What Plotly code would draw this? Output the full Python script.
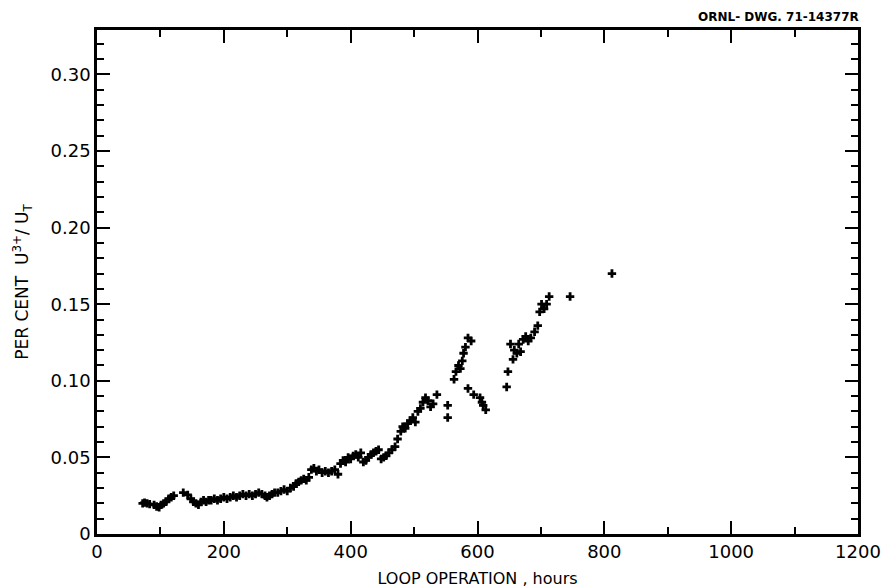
import plotly.graph_objects as go

hours = [72, 75, 79, 83,
         90, 94, 98, 101, 105, 109, 113, 117, 121,
         136,
         143, 148, 152, 156, 160, 164, 168, 172, 176, 180, 185, 190, 195, 200, 205, 210,
         215, 220, 225, 230, 235, 240, 245, 250, 255, 260, 265, 268, 272, 276, 280, 285,
         290, 295, 300, 305, 310, 314, 318, 322, 326, 330, 334, 338, 342, 346, 350, 355,
         360, 365, 370, 375, 380, 384, 388, 392, 396, 400, 404, 408, 412, 416, 420, 424,
         428, 432, 436, 440, 444, 448, 452, 456, 460, 465, 470, 474, 479, 482, 486, 490,
         494, 498, 502, 506, 510, 514, 518, 522, 526, 530, 536, 553, 553,
         563, 566, 570, 573, 576, 578, 581, 585, 590,
         585, 594, 604, 607, 609, 613,
         646, 648, 652, 656, 658, 662, 665, 668, 672, 676, 680, 684, 690, 695,
         698, 701, 705, 709, 713, 746, 812]
percent = [0.020, 0.0205, 0.020, 0.0195,
           0.019, 0.018, 0.0175, 0.019, 0.020, 0.021, 0.023, 0.024, 0.025,
           0.027,
           0.0255, 0.023, 0.021, 0.020, 0.019, 0.021, 0.022, 0.021, 0.022, 0.022, 0.023,
           0.022, 0.023, 0.024, 0.023, 0.024,
           0.025, 0.024, 0.025, 0.026, 0.025, 0.026, 0.025, 0.026, 0.027, 0.026, 0.025,
           0.024, 0.025, 0.026, 0.027, 0.027,
           0.028, 0.029, 0.028, 0.030, 0.031, 0.033, 0.034, 0.035, 0.036, 0.035, 0.037,
           0.042, 0.043, 0.041, 0.042, 0.040,
           0.041, 0.040, 0.041, 0.042, 0.039, 0.046, 0.048, 0.047, 0.050, 0.049, 0.051,
           0.052, 0.050, 0.053, 0.047, 0.048,
           0.050, 0.052, 0.053, 0.054, 0.055, 0.049, 0.050, 0.051, 0.053, 0.055, 0.057,
           0.062, 0.067, 0.070, 0.069, 0.072,
           0.074, 0.076, 0.073, 0.080, 0.082, 0.086, 0.089, 0.087, 0.083, 0.085, 0.091,
           0.084, 0.076,
           0.101, 0.106, 0.110, 0.108, 0.113, 0.118, 0.122, 0.128, 0.126,
           0.095, 0.091, 0.089, 0.086, 0.084, 0.081,
           0.096, 0.106, 0.124, 0.114, 0.120, 0.118, 0.124, 0.119, 0.127, 0.129, 0.126,
           0.128, 0.132, 0.136,
           0.145, 0.150, 0.147, 0.150, 0.155, 0.155, 0.170]

x_ticks = [0, 200, 400, 600, 800, 1000, 1200]
x_labels = ["0", "200", "400", "600", "800", "1000", "1200"]
y_ticks = [0, 0.05, 0.10, 0.15, 0.20, 0.25, 0.30]
y_labels = ["0", "0.05", "0.10", "0.15", "0.20", "0.25", "0.30"]

font = "DejaVu Sans"

fig = go.Figure()
fig.add_trace(go.Scatter(
    x=hours, y=percent, mode="markers",
    marker=dict(symbol="cross", size=7, color="black", line=dict(width=0)),
    showlegend=False,
))

fig.update_layout(
    width=887, height=588,
    margin=dict(l=97, r=29, t=30, b=54),
    paper_bgcolor="white", plot_bgcolor="white",
    font=dict(family=font, color="black"),
)
fig.update_xaxes(
    range=[0, 1200], tickvals=x_ticks, ticktext=x_labels,
    showgrid=False, zeroline=False, automargin=False,
    showline=True, linecolor="black", linewidth=2.5, mirror="allticks",
    ticks="inside", ticklen=13, tickwidth=2, tickcolor="black",
    minor=dict(dtick=100, tick0=0, ticks="inside", ticklen=7, tickwidth=2, tickcolor="black"),
    tickfont=dict(size=18, family=font),
    title=dict(text="LOOP OPERATION , hours", font=dict(size=16, family=font), standoff=12),
)
fig.update_yaxes(
    range=[0, 0.329], tickvals=y_ticks, ticktext=y_labels,
    showgrid=False, zeroline=False, automargin=False,
    showline=True, linecolor="black", linewidth=2.5, mirror="allticks",
    ticks="inside", ticklen=13, tickwidth=2, tickcolor="black",
    minor=dict(dtick=0.01, tick0=0, ticks="inside", ticklen=7, tickwidth=2, tickcolor="black"),
    tickfont=dict(size=18, family=font),
    title=dict(text="PER CENT  U<sup>3+</sup>/ U<sub>T</sub>", font=dict(size=17, family=font), standoff=18),
)
fig.add_annotation(
    text="<b>ORNL- DWG. 71-14377R</b>", xref="paper", yref="paper",
    x=1.0, y=1.0, xanchor="right", yanchor="bottom", yshift=4, xshift=3,
    showarrow=False, font=dict(size=12, family=font, color="black"),
)

fig.write_html("out.html")
